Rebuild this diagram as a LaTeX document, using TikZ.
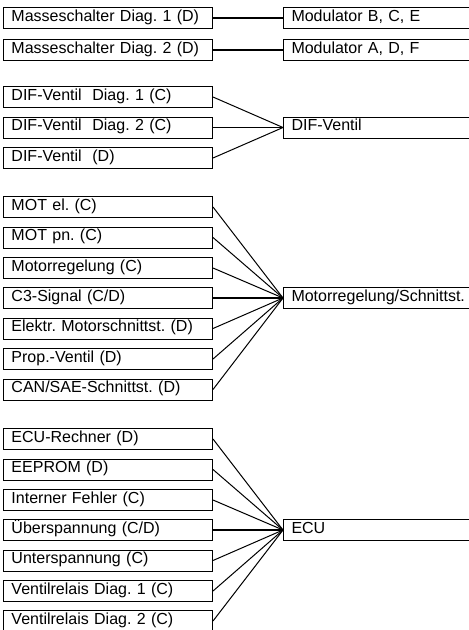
\documentclass[tikz,border=0pt]{standalone}
\usepackage{fontspec}
\setmainfont{Liberation Sans}
\frenchspacing
\begin{document}
\begin{tikzpicture}[x=1pt,y=-1pt,
  basebox/.style={draw, line width=1pt, anchor=north west, inner xsep=8pt, inner ysep=1pt,
    text height=12.5pt, text depth=6.5pt, align=left, font=\fontsize{16}{18}\selectfont},
  lbox/.style={basebox, text width=193pt},
  rbox/.style={basebox, text width=169.5pt},
  conn/.style={line width=1pt},
  connh/.style={line width=1.7pt}]
\useasboundingbox (0,0) rectangle (469,630);

% group 1
\node[lbox] (m1) at (3,7) {Masseschalter Diag. 1 (D)};
\node[lbox] (m2) at (3,39) {Masseschalter Diag. 2 (D)};
\node[rbox] (mb) at (283,7) {Modulator B, C, E};
\node[rbox] (ma) at (283,39) {Modulator A, D, F};
\draw[connh] (m1.east) -- (mb.west);
\draw[connh] (m2.east) -- (ma.west);

% group 2
\node[lbox] (d1) at (3,86) {DIF-Ventil\ \ Diag. 1 (C)};
\node[lbox] (d2) at (3,116.5) {DIF-Ventil\ \ Diag. 2 (C)};
\node[lbox] (d3) at (3,147) {DIF-Ventil\ \ (D)};
\node[rbox] (dif) at (283,116.5) {DIF-Ventil};
\draw[conn] (d1.east) -- (dif.west);
\draw[connh] (d2.east) -- (dif.west);
\draw[conn] (d3.east) -- (dif.west);

% group 3
\node[lbox] (g1) at (3,196) {MOT el. (C)};
\node[lbox] (g2) at (3,226.5) {MOT pn. (C)};
\node[lbox] (g3) at (3,257) {Motorregelung (C)};
\node[lbox] (g4) at (3,287) {C3-Signal (C/D)};
\node[lbox] (g5) at (3,317.5) {Elektr. Motorschnittst. (D)};
\node[lbox] (g6) at (3,348) {Prop.-Ventil (D)};
\node[lbox] (g7) at (3,378.5) {CAN/SAE-Schnittst. (D)};
\node[rbox] (mot) at (283,287) {Motorregelung/Schnittst.};
\foreach \n in {g1,g2,g3,g5,g6,g7} \draw[conn] (\n.east) -- (mot.west);
\draw[connh] (g4.east) -- (mot.west);

% group 4
\node[lbox] (e1) at (3,428) {ECU-Rechner (D)};
\node[lbox] (e2) at (3,458.5) {EEPROM (D)};
\node[lbox] (e3) at (3,489) {Interner Fehler (C)};
\node[lbox] (e4) at (3,519) {Überspannung (C/D)};
\node[lbox] (e5) at (3,549.5) {Unterspannung (C)};
\node[lbox] (e6) at (3,580) {Ventilrelais Diag. 1 (C)};
\node[lbox] (e7) at (3,610) {Ventilrelais Diag. 2 (C)};
\node[rbox] (ecu) at (283,519) {ECU};
\foreach \n in {e1,e2,e3,e5,e6,e7} \draw[conn] (\n.east) -- (ecu.west);
\draw[connh] (e4.east) -- (ecu.west);
\end{tikzpicture}
\end{document}
